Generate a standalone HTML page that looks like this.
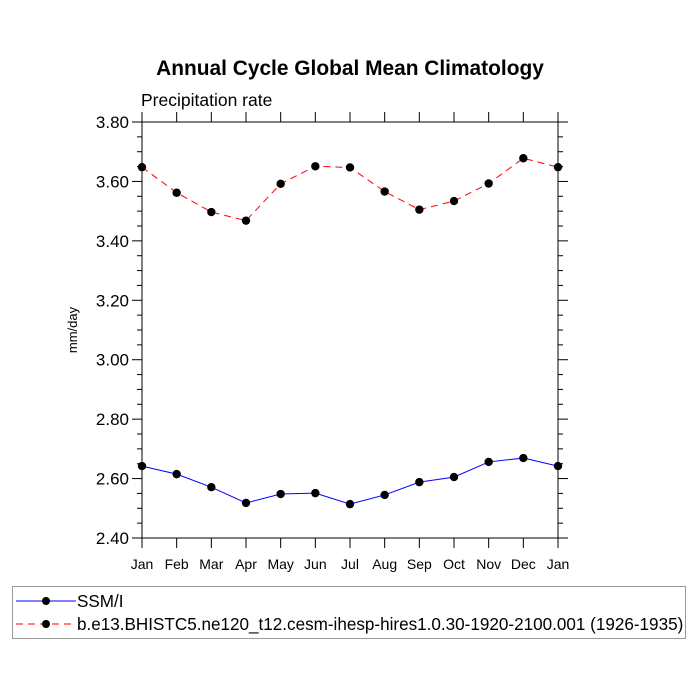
<!DOCTYPE html>
<html><head><meta charset="utf-8"><style>body{margin:0;background:#fff}svg{display:block;font-family:"Liberation Sans",sans-serif}</style></head>
<body>
<svg id="chart" width="700" height="700">
<text x="350" y="75" text-anchor="middle" font-size="20.9" font-weight="bold">Annual Cycle Global Mean Climatology</text>
<text x="141" y="106" font-size="17.5">Precipitation rate</text>
<text transform="translate(77,330) rotate(-90)" text-anchor="middle" font-size="13">mm/day</text>
<g id="axes"></g>
<g id="series"></g>
<g>
<rect x="12.5" y="586.5" width="673" height="52" fill="none" stroke="#999"/>
<g>
<line x1="16" y1="601" x2="76" y2="601" stroke="#00f"/><circle cx="46" cy="601" r="4"/>
<text x="77" y="607" font-size="17.1">SSM/I</text></g>
<g>
<line x1="16" y1="624" x2="76" y2="624" stroke="#f00" stroke-dasharray="7,5"/><circle cx="46" cy="624" r="4"/>
<text x="77" y="630" font-size="17.1">b.e13.BHISTC5.ne120_t12.cesm-ihesp-hires1.0.30-1920-2100.001 (1926-1935)</text></g>
</g>
</svg>
<script>
const months = ["Jan","Feb","Mar","Apr","May","Jun","Jul","Aug","Sep","Oct","Nov","Dec","Jan"];
const ssmi = [2.642,2.615,2.571,2.518,2.548,2.551,2.514,2.545,2.588,2.605,2.656,2.669,2.642];
const model = [3.648,3.562,3.497,3.468,3.592,3.651,3.647,3.566,3.505,3.534,3.593,3.678,3.648];
const yTicks = [2.40,2.60,2.80,3.00,3.20,3.40,3.60,3.80];
const NS="http://www.w3.org/2000/svg";
const L=142,R=558,T=122,B=538,yMin=2.4,yMax=3.8;
const xs=i=>L+(R-L)*i/(months.length-1);
const ys=v=>B-(v-yMin)/(yMax-yMin)*(B-T);
function mk(tag,attrs,parent){const e=document.createElementNS(NS,tag);for(const k in attrs)e.setAttribute(k,attrs[k]);parent.appendChild(e);return e;}
const ax=document.getElementById('axes');
const frame=mk('rect',{x:L,y:T,width:R-L,height:B-T,fill:'none',stroke:'#000','stroke-width':1},ax);


months.forEach((m,i)=>{const x=xs(i);
mk('line',{x1:x,y1:B,x2:x,y2:B+10,stroke:'#000'},ax);
mk('line',{x1:x,y1:T,x2:x,y2:T-10,stroke:'#000'},ax);
const t=mk('text',{x:x,y:B+31,'text-anchor':'middle','font-size':14},ax);t.textContent=m;

});
for(let v=yMin;v<=yMax+1e-9;v+=0.05){const y=ys(v);const major=Math.abs(Math.round(v*5)-v*5)<1e-6;const len=major?10:5;
mk('line',{x1:L,y1:y,x2:L-len,y2:y,stroke:'#000'},ax);
mk('line',{x1:R,y1:y,x2:R+len,y2:y,stroke:'#000'},ax);}
yTicks.forEach(v=>{const t=mk('text',{x:L-13,y:ys(v)+6,'text-anchor':'end','font-size':17},ax);t.textContent=v.toFixed(2);

});
const sg=document.getElementById('series');
function series(vals,color,dash,name){
const g=mk('g',{},sg);


const p=mk('polyline',{points:vals.map((v,i)=>xs(i)+','+ys(v)).join(' '),fill:'none',stroke:color,'stroke-width':1},g);
if(dash)p.setAttribute('stroke-dasharray','7,5');
vals.forEach((v,i)=>{const c=mk('circle',{cx:xs(i),cy:ys(v),r:4.2,fill:'#000'},g);

});}
series(ssmi,'#00f',false,'series-ssmi');
series(model,'#f00',true,'series-model');
</script>
</body></html>
